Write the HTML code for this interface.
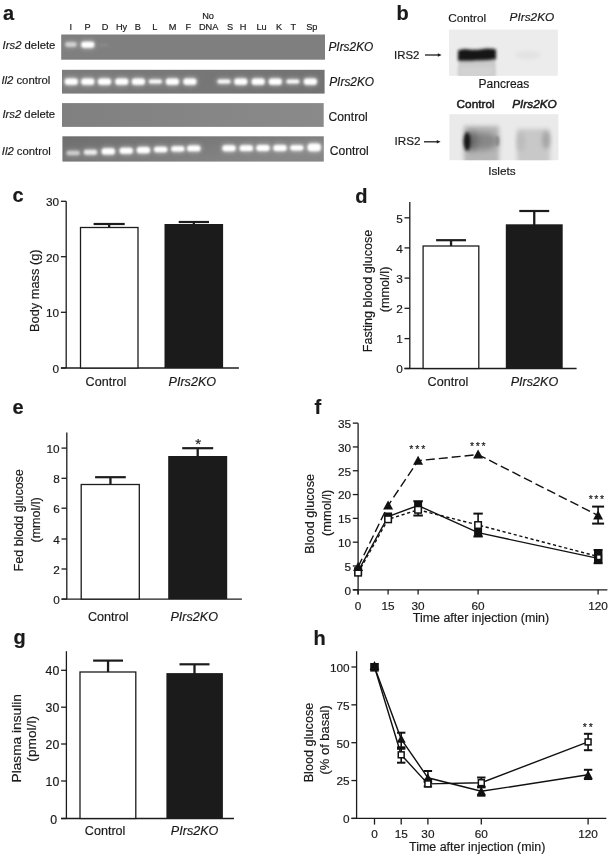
<!DOCTYPE html>
<html><head><meta charset="utf-8"><style>
html,body{margin:0;padding:0;background:#fff;}
body{width:609px;height:856px;overflow:hidden;}
svg{display:block;font-family:"Liberation Sans", sans-serif;filter:grayscale(1);}
text{stroke:#1a1a1a;stroke-width:0.18px;}
</style></head><body>
<svg width="609" height="856" viewBox="0 0 609 856">
<rect width="609" height="856" fill="#ffffff"/>
<text x="3.0" y="19.6" font-size="20" text-anchor="start" font-weight="bold" fill="#1a1a1a">a</text>
<text x="396.5" y="20.0" font-size="20" text-anchor="start" font-weight="bold" fill="#1a1a1a">b</text>
<text x="12.6" y="202.2" font-size="20" text-anchor="start" font-weight="bold" fill="#1a1a1a">c</text>
<text x="355.2" y="202.6" font-size="20" text-anchor="start" font-weight="bold" fill="#1a1a1a">d</text>
<text x="12.6" y="414.0" font-size="20" text-anchor="start" font-weight="bold" fill="#1a1a1a">e</text>
<text x="314.6" y="413.8" font-size="20" text-anchor="start" font-weight="bold" fill="#1a1a1a">f</text>
<text x="13.6" y="643.8" font-size="20" text-anchor="start" font-weight="bold" fill="#1a1a1a">g</text>
<text x="313.6" y="644.6" font-size="20" text-anchor="start" font-weight="bold" fill="#1a1a1a">h</text>
<defs><filter id="blr" x="-50%" y="-80%" width="200%" height="260%"><feGaussianBlur stdDeviation="1.1"/></filter><filter id="blr2" x="-50%" y="-80%" width="200%" height="260%"><feGaussianBlur stdDeviation="2.2"/></filter><filter id="blr15" x="-50%" y="-50%" width="200%" height="200%"><feGaussianBlur stdDeviation="1.5"/></filter><filter id="blr3" x="-50%" y="-50%" width="200%" height="200%"><feGaussianBlur stdDeviation="3"/></filter><linearGradient id="g4" x1="0" y1="0" x2="1" y2="0.6"><stop offset="0" stop-color="#6e6e6e"/><stop offset="0.5" stop-color="#7a7a7a"/><stop offset="1" stop-color="#878787"/></linearGradient><linearGradient id="g3" x1="0" y1="0" x2="1" y2="0"><stop offset="0" stop-color="#808080"/><stop offset="1" stop-color="#8a8a8a"/></linearGradient><linearGradient id="g2" x1="0" y1="0" x2="1" y2="0"><stop offset="0" stop-color="#7c7c7c"/><stop offset="1" stop-color="#727272"/></linearGradient></defs>
<text x="70.8" y="30.2" font-size="9.2" text-anchor="middle" fill="#1a1a1a">I</text>
<text x="87.6" y="30.2" font-size="9.2" text-anchor="middle" fill="#1a1a1a">P</text>
<text x="105" y="30.2" font-size="9.2" text-anchor="middle" fill="#1a1a1a">D</text>
<text x="121.6" y="30.2" font-size="9.2" text-anchor="middle" fill="#1a1a1a">Hy</text>
<text x="137.7" y="30.2" font-size="9.2" text-anchor="middle" fill="#1a1a1a">B</text>
<text x="154.7" y="30.2" font-size="9.2" text-anchor="middle" fill="#1a1a1a">L</text>
<text x="172.6" y="30.2" font-size="9.2" text-anchor="middle" fill="#1a1a1a">M</text>
<text x="188.4" y="30.2" font-size="9.2" text-anchor="middle" fill="#1a1a1a">F</text>
<text x="230" y="30.2" font-size="9.2" text-anchor="middle" fill="#1a1a1a">S</text>
<text x="243" y="30.2" font-size="9.2" text-anchor="middle" fill="#1a1a1a">H</text>
<text x="261.5" y="30.2" font-size="9.2" text-anchor="middle" fill="#1a1a1a">Lu</text>
<text x="279" y="30.2" font-size="9.2" text-anchor="middle" fill="#1a1a1a">K</text>
<text x="293.3" y="30.2" font-size="9.2" text-anchor="middle" fill="#1a1a1a">T</text>
<text x="311.8" y="30.2" font-size="9.2" text-anchor="middle" fill="#1a1a1a">Sp</text>
<text x="208" y="19.2" font-size="9.2" text-anchor="middle" fill="#1a1a1a">No</text>
<text x="208.6" y="30.2" font-size="9.2" text-anchor="middle" fill="#1a1a1a">DNA</text>
<rect x="61.2" y="34.5" width="263.8" height="25.2" fill="#7f7f7f"/>
<rect x="62.0" y="69.8" width="262.6" height="23.8" fill="url(#g2)"/>
<rect x="62.0" y="103.1" width="261.7" height="23.8" fill="url(#g3)"/>
<rect x="62.4" y="136.3" width="261.4" height="25.3" fill="url(#g4)"/>
<rect x="64.0" y="40.4" width="14.0" height="8.0" rx="4.0" fill="#ffffff" opacity="0.19" filter="url(#blr2)"/>
<rect x="65.2" y="41.9" width="11.5" height="5.0" rx="2.3" fill="#ffffff" opacity="0.55" filter="url(#blr)"/>
<rect x="80.0" y="40.3" width="15.5" height="9.0" rx="4.5" fill="#ffffff" opacity="0.35" filter="url(#blr2)"/>
<rect x="81.3" y="41.8" width="13.0" height="6.0" rx="2.7" fill="#ffffff" opacity="1.0" filter="url(#blr)"/>
<rect x="97.8" y="42.0" width="11.5" height="6.0" rx="3.0" fill="#ffffff" opacity="0.02" filter="url(#blr2)"/>
<rect x="99.0" y="43.5" width="9.0" height="3.0" rx="1.4" fill="#ffffff" opacity="0.06" filter="url(#blr)"/>
<rect x="63.5" y="77.0" width="15.5" height="9.2" rx="4.6" fill="#ffffff" opacity="0.35" filter="url(#blr2)"/>
<rect x="64.8" y="78.5" width="13.0" height="6.2" rx="2.8" fill="#ffffff" opacity="1.0" filter="url(#blr)"/>
<rect x="80.0" y="77.0" width="15.5" height="9.2" rx="4.6" fill="#ffffff" opacity="0.35" filter="url(#blr2)"/>
<rect x="81.3" y="78.5" width="13.0" height="6.2" rx="2.8" fill="#ffffff" opacity="1.0" filter="url(#blr)"/>
<rect x="96.8" y="77.0" width="15.5" height="9.2" rx="4.6" fill="#ffffff" opacity="0.35" filter="url(#blr2)"/>
<rect x="98.0" y="78.5" width="13.0" height="6.2" rx="2.8" fill="#ffffff" opacity="1.0" filter="url(#blr)"/>
<rect x="114.0" y="77.0" width="15.5" height="9.2" rx="4.6" fill="#ffffff" opacity="0.35" filter="url(#blr2)"/>
<rect x="115.3" y="78.5" width="13.0" height="6.2" rx="2.8" fill="#ffffff" opacity="1.0" filter="url(#blr)"/>
<rect x="130.7" y="77.0" width="15.5" height="9.2" rx="4.6" fill="#ffffff" opacity="0.35" filter="url(#blr2)"/>
<rect x="131.9" y="78.5" width="13.0" height="6.2" rx="2.8" fill="#ffffff" opacity="1.0" filter="url(#blr)"/>
<rect x="147.7" y="78.1" width="15.5" height="7.0" rx="3.5" fill="#ffffff" opacity="0.33" filter="url(#blr2)"/>
<rect x="148.9" y="79.6" width="13.0" height="4.0" rx="1.8" fill="#ffffff" opacity="0.95" filter="url(#blr)"/>
<rect x="164.7" y="77.0" width="15.5" height="9.2" rx="4.6" fill="#ffffff" opacity="0.35" filter="url(#blr2)"/>
<rect x="165.9" y="78.5" width="13.0" height="6.2" rx="2.8" fill="#ffffff" opacity="1.0" filter="url(#blr)"/>
<rect x="182.2" y="77.0" width="15.5" height="9.2" rx="4.6" fill="#ffffff" opacity="0.35" filter="url(#blr2)"/>
<rect x="183.4" y="78.5" width="13.0" height="6.2" rx="2.8" fill="#ffffff" opacity="1.0" filter="url(#blr)"/>
<rect x="216.2" y="78.1" width="15.5" height="7.0" rx="3.5" fill="#ffffff" opacity="0.33" filter="url(#blr2)"/>
<rect x="217.5" y="79.6" width="13.0" height="4.0" rx="1.8" fill="#ffffff" opacity="0.95" filter="url(#blr)"/>
<rect x="233.1" y="77.0" width="15.5" height="9.2" rx="4.6" fill="#ffffff" opacity="0.35" filter="url(#blr2)"/>
<rect x="234.3" y="78.5" width="13.0" height="6.2" rx="2.8" fill="#ffffff" opacity="1.0" filter="url(#blr)"/>
<rect x="250.4" y="77.0" width="15.5" height="9.2" rx="4.6" fill="#ffffff" opacity="0.35" filter="url(#blr2)"/>
<rect x="251.7" y="78.5" width="13.0" height="6.2" rx="2.8" fill="#ffffff" opacity="1.0" filter="url(#blr)"/>
<rect x="267.6" y="77.0" width="15.5" height="9.2" rx="4.6" fill="#ffffff" opacity="0.35" filter="url(#blr2)"/>
<rect x="268.8" y="78.5" width="13.0" height="6.2" rx="2.8" fill="#ffffff" opacity="1.0" filter="url(#blr)"/>
<rect x="285.1" y="78.1" width="15.5" height="7.0" rx="3.5" fill="#ffffff" opacity="0.33" filter="url(#blr2)"/>
<rect x="286.4" y="79.6" width="13.0" height="4.0" rx="1.8" fill="#ffffff" opacity="0.95" filter="url(#blr)"/>
<rect x="302.6" y="77.0" width="15.5" height="9.2" rx="4.6" fill="#ffffff" opacity="0.35" filter="url(#blr2)"/>
<rect x="303.9" y="78.5" width="13.0" height="6.2" rx="2.8" fill="#ffffff" opacity="1.0" filter="url(#blr)"/>
<rect x="65.4" y="149.2" width="15.7" height="7.6" rx="3.8" fill="#ffffff" opacity="0.19" filter="url(#blr2)"/>
<rect x="66.6" y="150.7" width="13.2" height="4.6" rx="2.1" fill="#ffffff" opacity="0.55" filter="url(#blr)"/>
<rect x="82.7" y="148.3" width="15.7" height="8.0" rx="4.0" fill="#ffffff" opacity="0.28" filter="url(#blr2)"/>
<rect x="83.9" y="149.8" width="13.2" height="5.0" rx="2.3" fill="#ffffff" opacity="0.8" filter="url(#blr)"/>
<rect x="100.5" y="146.8" width="15.7" height="9.2" rx="4.6" fill="#ffffff" opacity="0.35" filter="url(#blr2)"/>
<rect x="101.7" y="148.3" width="13.2" height="6.2" rx="2.8" fill="#ffffff" opacity="1" filter="url(#blr)"/>
<rect x="118.4" y="146.2" width="15.7" height="9.0" rx="4.5" fill="#ffffff" opacity="0.35" filter="url(#blr2)"/>
<rect x="119.6" y="147.7" width="13.2" height="6.0" rx="2.7" fill="#ffffff" opacity="1" filter="url(#blr)"/>
<rect x="135.6" y="145.6" width="15.7" height="9.2" rx="4.6" fill="#ffffff" opacity="0.35" filter="url(#blr2)"/>
<rect x="136.8" y="147.1" width="13.2" height="6.2" rx="2.8" fill="#ffffff" opacity="1" filter="url(#blr)"/>
<rect x="152.8" y="145.3" width="15.7" height="8.4" rx="4.2" fill="#ffffff" opacity="0.35" filter="url(#blr2)"/>
<rect x="154.1" y="146.8" width="13.2" height="5.4" rx="2.5" fill="#ffffff" opacity="1" filter="url(#blr)"/>
<rect x="170.0" y="144.7" width="15.7" height="8.4" rx="4.2" fill="#ffffff" opacity="0.35" filter="url(#blr2)"/>
<rect x="171.2" y="146.2" width="13.2" height="5.4" rx="2.5" fill="#ffffff" opacity="1" filter="url(#blr)"/>
<rect x="186.0" y="144.0" width="15.7" height="8.8" rx="4.4" fill="#ffffff" opacity="0.35" filter="url(#blr2)"/>
<rect x="187.2" y="145.5" width="13.2" height="5.8" rx="2.6" fill="#ffffff" opacity="1" filter="url(#blr)"/>
<rect x="221.2" y="143.7" width="15.7" height="9.0" rx="4.5" fill="#ffffff" opacity="0.35" filter="url(#blr2)"/>
<rect x="222.4" y="145.2" width="13.2" height="6.0" rx="2.7" fill="#ffffff" opacity="1" filter="url(#blr)"/>
<rect x="238.5" y="143.7" width="15.7" height="8.8" rx="4.4" fill="#ffffff" opacity="0.35" filter="url(#blr2)"/>
<rect x="239.7" y="145.2" width="13.2" height="5.8" rx="2.6" fill="#ffffff" opacity="1" filter="url(#blr)"/>
<rect x="255.2" y="143.5" width="15.7" height="9.0" rx="4.5" fill="#ffffff" opacity="0.35" filter="url(#blr2)"/>
<rect x="256.4" y="145.0" width="13.2" height="6.0" rx="2.7" fill="#ffffff" opacity="1" filter="url(#blr)"/>
<rect x="272.1" y="143.6" width="15.7" height="8.8" rx="4.4" fill="#ffffff" opacity="0.35" filter="url(#blr2)"/>
<rect x="273.4" y="145.1" width="13.2" height="5.8" rx="2.6" fill="#ffffff" opacity="1" filter="url(#blr)"/>
<rect x="288.9" y="143.7" width="15.7" height="8.2" rx="4.1" fill="#ffffff" opacity="0.35" filter="url(#blr2)"/>
<rect x="290.2" y="145.2" width="13.2" height="5.2" rx="2.4" fill="#ffffff" opacity="1" filter="url(#blr)"/>
<rect x="306.3" y="142.0" width="15.7" height="10.8" rx="5.4" fill="#ffffff" opacity="0.35" filter="url(#blr2)"/>
<rect x="307.6" y="143.5" width="13.2" height="7.8" rx="3.5" fill="#ffffff" opacity="1" filter="url(#blr)"/>
<text x="2.6" y="48.6" font-size="11.3" fill="#1a1a1a"><tspan font-style="italic">Irs2</tspan> delete</text>
<text x="1.4" y="84.2" font-size="11.3" fill="#1a1a1a"><tspan font-style="italic">Il2</tspan> control</text>
<text x="2.4" y="118.4" font-size="11.3" fill="#1a1a1a"><tspan font-style="italic">Irs2</tspan> delete</text>
<text x="1.8" y="154.6" font-size="11.3" fill="#1a1a1a"><tspan font-style="italic">Il2</tspan> control</text>
<text x="328.4" y="51.0" font-size="11.9" text-anchor="start" font-style="italic" fill="#1a1a1a">PIrs2KO</text>
<text x="329.2" y="86.0" font-size="11.9" text-anchor="start" font-style="italic" fill="#1a1a1a">PIrs2KO</text>
<text x="328.6" y="121.0" font-size="12.1" text-anchor="start" fill="#1a1a1a">Control</text>
<text x="329.8" y="155.3" font-size="12.1" text-anchor="start" fill="#1a1a1a">Control</text>
<text x="448.2" y="22.3" font-size="11.8" text-anchor="start" fill="#1a1a1a">Control</text>
<text x="509.6" y="21.4" font-size="11.8" text-anchor="start" font-style="italic" fill="#1a1a1a">PIrs2KO</text>
<clipPath id="cb1"><rect x="449.0" y="29.6" width="108.8" height="46.2"/></clipPath>
<clipPath id="cb2"><rect x="449.4" y="114.2" width="109.0" height="46.0"/></clipPath>
<rect x="449.0" y="29.6" width="108.8" height="46.2" fill="#ececec"/>
<g clip-path="url(#cb1)">
<rect x="458.5" y="57" width="37" height="22" fill="#c9c9c9" filter="url(#blr)"/>
<rect x="459" y="66" width="35" height="12" fill="#d2d2d2" filter="url(#blr2)"/>
<path d="M458 50.5 Q462 48.2 470 49.4 Q480 50.2 486 48.6 Q492 48 496 49.6 L496 59.0 Q488 60.4 478 60.2 Q468 61.2 458 60.6 Z" fill="#141414" filter="url(#blr15)"/>
<ellipse cx="528" cy="55" rx="13" ry="4" fill="#e2e2e2" filter="url(#blr2)"/>
</g>
<text x="394.0" y="59.2" font-size="11.4" text-anchor="start" fill="#1a1a1a">IRS2</text>
<line x1="425" y1="55.0" x2="439" y2="55.0" stroke="#1c1c1c" stroke-width="1.3"/>
<path d="M437.8 53.3 L441.6 55.0 L437.8 56.7 Z" fill="#1a1a1a"/>
<text x="478.6" y="88.3" font-size="12.0" text-anchor="start" fill="#1a1a1a">Pancreas</text>
<text x="456.6" y="108.2" font-size="11.8" text-anchor="start" fill="#1a1a1a" style="stroke-width:0.5px">Control</text>
<text x="512.2" y="108.2" font-size="11.8" text-anchor="start" font-style="italic" fill="#1a1a1a" style="stroke-width:0.5px">PIrs2KO</text>
<rect x="449.4" y="114.2" width="109.0" height="46.0" fill="#eaeaea"/>
<g clip-path="url(#cb2)">
<rect x="464" y="126" width="35" height="40" fill="#b6b6b6" filter="url(#blr2)"/>
<ellipse cx="483" cy="141" rx="15" ry="9" fill="#878787" filter="url(#blr3)"/>
<ellipse cx="472" cy="141" rx="6" ry="10" fill="#6a6a6a" filter="url(#blr3)"/>
<ellipse cx="497" cy="141" rx="2" ry="5" fill="#8a8a8a" filter="url(#blr)"/>
<ellipse cx="467.2" cy="141.5" rx="3.4" ry="9.5" fill="#161616" filter="url(#blr15)"/>
<rect x="517" y="129" width="33" height="38" fill="#c8c8c8" filter="url(#blr2)"/>
<ellipse cx="546" cy="140" rx="4" ry="9" fill="#a6a6a6" filter="url(#blr2)"/>
<ellipse cx="521" cy="142" rx="4" ry="10" fill="#bcbcbc" filter="url(#blr2)"/>
</g>
<text x="394.6" y="145.3" font-size="11.7" text-anchor="start" fill="#1a1a1a">IRS2</text>
<line x1="424" y1="141.8" x2="438" y2="141.8" stroke="#1c1c1c" stroke-width="1.3"/>
<path d="M436.8 140.1 L440.6 141.8 L436.8 143.5 Z" fill="#1a1a1a"/>
<text x="488.2" y="175.0" font-size="11.8" text-anchor="start" fill="#1a1a1a">Islets</text>
<line x1="66.2" y1="201.3" x2="66.2" y2="368.0" stroke="#1c1c1c" stroke-width="1.3"/>
<line x1="60.9" y1="368.0" x2="238.9" y2="368.0" stroke="#1c1c1c" stroke-width="1.3"/>
<line x1="60.9" y1="368.0" x2="66.2" y2="368.0" stroke="#1c1c1c" stroke-width="1.3"/>
<text x="59.1" y="372.88" font-size="11.8" text-anchor="end" fill="#1a1a1a">0</text>
<line x1="60.9" y1="312.3" x2="66.2" y2="312.3" stroke="#1c1c1c" stroke-width="1.3"/>
<text x="59.1" y="317.18" font-size="11.8" text-anchor="end" fill="#1a1a1a">10</text>
<line x1="60.9" y1="256.7" x2="66.2" y2="256.7" stroke="#1c1c1c" stroke-width="1.3"/>
<text x="59.1" y="261.58" font-size="11.8" text-anchor="end" fill="#1a1a1a">20</text>
<line x1="60.9" y1="201.3" x2="66.2" y2="201.3" stroke="#1c1c1c" stroke-width="1.3"/>
<text x="59.1" y="206.18" font-size="11.8" text-anchor="end" fill="#1a1a1a">30</text>
<line x1="109.15" y1="224.0" x2="109.15" y2="229.0" stroke="#1c1c1c" stroke-width="2.3"/>
<line x1="93.6" y1="224.0" x2="124.7" y2="224.0" stroke="#1c1c1c" stroke-width="2.2"/>
<rect x="80.5" y="227.5" width="57.5" height="140.5" fill="#ffffff" stroke="#1c1c1c" stroke-width="1.3"/>
<line x1="193.85" y1="222.0" x2="193.85" y2="225.8" stroke="#1c1c1c" stroke-width="2.3"/>
<line x1="178.7" y1="222.0" x2="209.0" y2="222.0" stroke="#1c1c1c" stroke-width="2.2"/>
<rect x="164.5" y="224.0" width="58.6" height="144.0" fill="#1b1b1b"/>
<text x="105.9" y="386.0" font-size="12.6" text-anchor="middle" fill="#1a1a1a">Control</text>
<text x="192.3" y="386.0" font-size="12.6" text-anchor="middle" font-style="italic" fill="#1a1a1a">PIrs2KO</text>
<text x="39.4" y="290.7" font-size="12.8" text-anchor="middle" transform="rotate(-90 39.4 290.7)" fill="#1a1a1a">Body mass (g)</text>
<line x1="409.8" y1="201.9" x2="409.8" y2="368.5" stroke="#1c1c1c" stroke-width="1.3"/>
<line x1="404.5" y1="368.5" x2="576.6" y2="368.5" stroke="#1c1c1c" stroke-width="1.3"/>
<line x1="404.5" y1="368.5" x2="409.8" y2="368.5" stroke="#1c1c1c" stroke-width="1.3"/>
<text x="402.7" y="373.38" font-size="11.8" text-anchor="end" fill="#1a1a1a">0</text>
<line x1="404.5" y1="338.6" x2="409.8" y2="338.6" stroke="#1c1c1c" stroke-width="1.3"/>
<text x="402.7" y="343.48" font-size="11.8" text-anchor="end" fill="#1a1a1a">1</text>
<line x1="404.5" y1="308.3" x2="409.8" y2="308.3" stroke="#1c1c1c" stroke-width="1.3"/>
<text x="402.7" y="313.18" font-size="11.8" text-anchor="end" fill="#1a1a1a">2</text>
<line x1="404.5" y1="278.1" x2="409.8" y2="278.1" stroke="#1c1c1c" stroke-width="1.3"/>
<text x="402.7" y="282.98" font-size="11.8" text-anchor="end" fill="#1a1a1a">3</text>
<line x1="404.5" y1="247.9" x2="409.8" y2="247.9" stroke="#1c1c1c" stroke-width="1.3"/>
<text x="402.7" y="252.78" font-size="11.8" text-anchor="end" fill="#1a1a1a">4</text>
<line x1="404.5" y1="217.8" x2="409.8" y2="217.8" stroke="#1c1c1c" stroke-width="1.3"/>
<text x="402.7" y="222.68" font-size="11.8" text-anchor="end" fill="#1a1a1a">5</text>
<line x1="451.05" y1="240.2" x2="451.05" y2="247.5" stroke="#1c1c1c" stroke-width="2.3"/>
<line x1="436.1" y1="240.2" x2="466.0" y2="240.2" stroke="#1c1c1c" stroke-width="2.2"/>
<rect x="423.1" y="246.0" width="55.7" height="122.5" fill="#ffffff" stroke="#1c1c1c" stroke-width="1.3"/>
<line x1="534.25" y1="211.0" x2="534.25" y2="226.1" stroke="#1c1c1c" stroke-width="2.3"/>
<line x1="519.3" y1="211.0" x2="549.2" y2="211.0" stroke="#1c1c1c" stroke-width="2.2"/>
<rect x="505.8" y="224.3" width="56.9" height="144.2" fill="#1b1b1b"/>
<text x="447.9" y="385.9" font-size="12.6" text-anchor="middle" fill="#1a1a1a">Control</text>
<text x="534.5" y="385.9" font-size="12.6" text-anchor="middle" font-style="italic" fill="#1a1a1a">PIrs2KO</text>
<text x="372.4" y="291.0" font-size="12.6" text-anchor="middle" transform="rotate(-90 372.4 291.0)" fill="#1a1a1a">Fasting blood glucose</text>
<text x="389.3" y="289.4" font-size="12.6" text-anchor="middle" transform="rotate(-90 389.3 289.4)" fill="#1a1a1a">(mmol/l)</text>
<line x1="66.8" y1="432.5" x2="66.8" y2="599.1" stroke="#1c1c1c" stroke-width="1.3"/>
<line x1="61.5" y1="599.1" x2="241.9" y2="599.1" stroke="#1c1c1c" stroke-width="1.3"/>
<line x1="61.5" y1="599.1" x2="66.8" y2="599.1" stroke="#1c1c1c" stroke-width="1.3"/>
<text x="59.7" y="603.98" font-size="11.8" text-anchor="end" fill="#1a1a1a">0</text>
<line x1="61.5" y1="569.0" x2="66.8" y2="569.0" stroke="#1c1c1c" stroke-width="1.3"/>
<text x="59.7" y="573.88" font-size="11.8" text-anchor="end" fill="#1a1a1a">2</text>
<line x1="61.5" y1="539.0" x2="66.8" y2="539.0" stroke="#1c1c1c" stroke-width="1.3"/>
<text x="59.7" y="543.88" font-size="11.8" text-anchor="end" fill="#1a1a1a">4</text>
<line x1="61.5" y1="508.2" x2="66.8" y2="508.2" stroke="#1c1c1c" stroke-width="1.3"/>
<text x="59.7" y="513.08" font-size="11.8" text-anchor="end" fill="#1a1a1a">6</text>
<line x1="61.5" y1="478.3" x2="66.8" y2="478.3" stroke="#1c1c1c" stroke-width="1.3"/>
<text x="59.7" y="483.18" font-size="11.8" text-anchor="end" fill="#1a1a1a">8</text>
<line x1="61.5" y1="448.1" x2="66.8" y2="448.1" stroke="#1c1c1c" stroke-width="1.3"/>
<text x="59.7" y="452.98" font-size="11.8" text-anchor="end" fill="#1a1a1a">10</text>
<line x1="110.45" y1="477.2" x2="110.45" y2="486.0" stroke="#1c1c1c" stroke-width="2.3"/>
<line x1="95.1" y1="477.2" x2="125.8" y2="477.2" stroke="#1c1c1c" stroke-width="2.2"/>
<rect x="81.2" y="484.5" width="58.1" height="114.6" fill="#ffffff" stroke="#1c1c1c" stroke-width="1.3"/>
<line x1="197.7" y1="448.2" x2="197.7" y2="457.8" stroke="#1c1c1c" stroke-width="2.3"/>
<line x1="182.2" y1="448.2" x2="213.2" y2="448.2" stroke="#1c1c1c" stroke-width="2.2"/>
<rect x="168.2" y="456.0" width="59" height="143.1" fill="#1b1b1b"/>
<text x="108.3" y="621.0" font-size="12.6" text-anchor="middle" fill="#1a1a1a">Control</text>
<text x="194.2" y="621.0" font-size="12.6" text-anchor="middle" font-style="italic" fill="#1a1a1a">PIrs2KO</text>
<text x="22.7" y="520.3" font-size="12.5" text-anchor="middle" transform="rotate(-90 22.7 520.3)" fill="#1a1a1a">Fed blodd glucose</text>
<text x="40.0" y="519.9" font-size="12.5" text-anchor="middle" transform="rotate(-90 40.0 519.9)" fill="#1a1a1a">(mmol/l)</text>
<text x="198.1" y="448.8" font-size="15" text-anchor="middle" fill="#1a1a1a">*</text>
<line x1="66.4" y1="651.2" x2="66.4" y2="818.5" stroke="#1c1c1c" stroke-width="1.3"/>
<line x1="61.1" y1="818.5" x2="234.0" y2="818.5" stroke="#1c1c1c" stroke-width="1.3"/>
<line x1="61.1" y1="818.5" x2="66.4" y2="818.5" stroke="#1c1c1c" stroke-width="1.3"/>
<text x="57.1" y="823.56" font-size="12.3" text-anchor="end" fill="#1a1a1a">0</text>
<line x1="61.1" y1="781.0" x2="66.4" y2="781.0" stroke="#1c1c1c" stroke-width="1.3"/>
<text x="59.3" y="786.06" font-size="12.3" text-anchor="end" fill="#1a1a1a">10</text>
<line x1="61.1" y1="744.0" x2="66.4" y2="744.0" stroke="#1c1c1c" stroke-width="1.3"/>
<text x="59.3" y="749.06" font-size="12.3" text-anchor="end" fill="#1a1a1a">20</text>
<line x1="61.1" y1="707.2" x2="66.4" y2="707.2" stroke="#1c1c1c" stroke-width="1.3"/>
<text x="59.3" y="712.26" font-size="12.3" text-anchor="end" fill="#1a1a1a">30</text>
<line x1="61.1" y1="670.3" x2="66.4" y2="670.3" stroke="#1c1c1c" stroke-width="1.3"/>
<text x="59.3" y="675.36" font-size="12.3" text-anchor="end" fill="#1a1a1a">40</text>
<line x1="108.05" y1="660.6" x2="108.05" y2="673.5" stroke="#1c1c1c" stroke-width="2.3"/>
<line x1="93.1" y1="660.6" x2="123.0" y2="660.6" stroke="#1c1c1c" stroke-width="2.2"/>
<rect x="80.0" y="672.0" width="55.8" height="146.5" fill="#ffffff" stroke="#1c1c1c" stroke-width="1.3"/>
<line x1="194.5" y1="664.3" x2="194.5" y2="674.9" stroke="#1c1c1c" stroke-width="2.3"/>
<line x1="179.5" y1="664.3" x2="209.5" y2="664.3" stroke="#1c1c1c" stroke-width="2.2"/>
<rect x="166.4" y="673.1" width="56.5" height="145.4" fill="#1b1b1b"/>
<text x="105.1" y="835.0" font-size="12.6" text-anchor="middle" fill="#1a1a1a">Control</text>
<text x="194.6" y="835.0" font-size="12.6" text-anchor="middle" font-style="italic" fill="#1a1a1a">PIrs2KO</text>
<text x="20.9" y="738.3" font-size="13.7" text-anchor="middle" transform="rotate(-90 20.9 738.3)" fill="#1a1a1a">Plasma insulin</text>
<text x="36.0" y="738.8" font-size="13.7" text-anchor="middle" transform="rotate(-90 36.0 738.8)" fill="#1a1a1a">(pmol/l)</text>
<line x1="358.1" y1="423.3" x2="358.1" y2="594.6" stroke="#1c1c1c" stroke-width="1.3"/>
<line x1="352.8" y1="589.8" x2="607.4" y2="589.8" stroke="#1c1c1c" stroke-width="1.3"/>
<line x1="352.8" y1="589.8" x2="358.1" y2="589.8" stroke="#1c1c1c" stroke-width="1.3"/>
<text x="351.0" y="594.68" font-size="11.8" text-anchor="end" fill="#1a1a1a">0</text>
<line x1="352.8" y1="565.99" x2="358.1" y2="565.99" stroke="#1c1c1c" stroke-width="1.3"/>
<text x="351.0" y="570.87" font-size="11.8" text-anchor="end" fill="#1a1a1a">5</text>
<line x1="352.8" y1="542.18" x2="358.1" y2="542.18" stroke="#1c1c1c" stroke-width="1.3"/>
<text x="351.0" y="547.06" font-size="11.8" text-anchor="end" fill="#1a1a1a">10</text>
<line x1="352.8" y1="518.37" x2="358.1" y2="518.37" stroke="#1c1c1c" stroke-width="1.3"/>
<text x="351.0" y="523.25" font-size="11.8" text-anchor="end" fill="#1a1a1a">15</text>
<line x1="352.8" y1="494.56" x2="358.1" y2="494.56" stroke="#1c1c1c" stroke-width="1.3"/>
<text x="351.0" y="499.44" font-size="11.8" text-anchor="end" fill="#1a1a1a">20</text>
<line x1="352.8" y1="470.75" x2="358.1" y2="470.75" stroke="#1c1c1c" stroke-width="1.3"/>
<text x="351.0" y="475.63" font-size="11.8" text-anchor="end" fill="#1a1a1a">25</text>
<line x1="352.8" y1="446.94" x2="358.1" y2="446.94" stroke="#1c1c1c" stroke-width="1.3"/>
<text x="351.0" y="451.82" font-size="11.8" text-anchor="end" fill="#1a1a1a">30</text>
<line x1="352.8" y1="423.13" x2="358.1" y2="423.13" stroke="#1c1c1c" stroke-width="1.3"/>
<text x="351.0" y="428.01" font-size="11.8" text-anchor="end" fill="#1a1a1a">35</text>
<line x1="358.1" y1="589.8" x2="358.1" y2="594.6" stroke="#1c1c1c" stroke-width="1.3"/>
<text x="358.1" y="609.8" font-size="11.8" text-anchor="middle" fill="#1a1a1a">0</text>
<line x1="388.1" y1="589.8" x2="388.1" y2="594.6" stroke="#1c1c1c" stroke-width="1.3"/>
<text x="388.1" y="609.8" font-size="11.8" text-anchor="middle" fill="#1a1a1a">15</text>
<line x1="418.1" y1="589.8" x2="418.1" y2="594.6" stroke="#1c1c1c" stroke-width="1.3"/>
<text x="418.1" y="609.8" font-size="11.8" text-anchor="middle" fill="#1a1a1a">30</text>
<line x1="478.1" y1="589.8" x2="478.1" y2="594.6" stroke="#1c1c1c" stroke-width="1.3"/>
<text x="478.1" y="609.8" font-size="11.8" text-anchor="middle" fill="#1a1a1a">60</text>
<line x1="598.1" y1="589.8" x2="598.1" y2="594.6" stroke="#1c1c1c" stroke-width="1.3"/>
<text x="598.1" y="609.8" font-size="11.8" text-anchor="middle" fill="#1a1a1a">120</text>
<text x="481.0" y="622.1" font-size="12.45" text-anchor="middle" fill="#1a1a1a">Time after injection (min)</text>
<text x="314.3" y="513.8" font-size="12.7" text-anchor="middle" transform="rotate(-90 314.3 513.8)" fill="#1a1a1a">Blood glucose</text>
<text x="330.7" y="512.8" font-size="12.8" text-anchor="middle" transform="rotate(-90 330.7 512.8)" fill="#1a1a1a">(mmol/l)</text>
<polyline points="358.1,571.2 388.1,516.5 418.1,505.5 478.1,532.7 598.1,558.4" fill="none" stroke="#111" stroke-width="1.4"/>
<polyline points="358.1,572.7 388.1,519.3 418.1,509.8 478.1,525.0 598.1,556.5" fill="none" stroke="#111" stroke-width="1.4" stroke-dasharray="3.2 2.6"/>
<polyline points="358.1,566.9 388.1,505.5 418.1,460.7 478.1,454.6 598.1,515.5" fill="none" stroke="#111" stroke-width="1.4" stroke-dasharray="9 4"/>
<line x1="418.1" y1="501.23" x2="418.1" y2="515.51" stroke="#111" stroke-width="1.6"/>
<line x1="413.35" y1="501.23" x2="422.85" y2="501.23" stroke="#111" stroke-width="2.0"/>
<line x1="413.35" y1="515.51" x2="422.85" y2="515.51" stroke="#111" stroke-width="2.0"/>
<line x1="478.1" y1="513.61" x2="478.1" y2="536.47" stroke="#111" stroke-width="1.6"/>
<line x1="473.4" y1="513.61" x2="482.8" y2="513.61" stroke="#111" stroke-width="2.0"/>
<line x1="473.4" y1="536.47" x2="482.8" y2="536.47" stroke="#111" stroke-width="2.0"/>
<line x1="598.1" y1="506.6" x2="598.1" y2="523.6" stroke="#111" stroke-width="1.6"/>
<line x1="592.1" y1="506.6" x2="604.1" y2="506.6" stroke="#111" stroke-width="2.0"/>
<line x1="592.1" y1="523.6" x2="604.1" y2="523.6" stroke="#111" stroke-width="2.0"/>
<line x1="598.1" y1="550.0" x2="598.1" y2="563.2" stroke="#111" stroke-width="1.6"/>
<line x1="593.6" y1="550.0" x2="602.6" y2="550.0" stroke="#111" stroke-width="2.0"/>
<line x1="593.6" y1="563.2" x2="602.6" y2="563.2" stroke="#111" stroke-width="2.0"/>
<rect x="354.1" y="567.23" width="8" height="8" fill="#111"/>
<rect x="384.1" y="512.47" width="8" height="8" fill="#111"/>
<rect x="414.1" y="501.51" width="8" height="8" fill="#111"/>
<rect x="474.1" y="528.66" width="8" height="8" fill="#111"/>
<rect x="594.1" y="554.37" width="8" height="8" fill="#111"/>
<rect x="354.85" y="569.41" width="6.5" height="6.5" fill="#ffffff" stroke="#111" stroke-width="1.5"/>
<rect x="384.85" y="516.07" width="6.5" height="6.5" fill="#ffffff" stroke="#111" stroke-width="1.5"/>
<rect x="414.85" y="506.55" width="6.5" height="6.5" fill="#ffffff" stroke="#111" stroke-width="1.5"/>
<rect x="474.85" y="521.79" width="6.5" height="6.5" fill="#ffffff" stroke="#111" stroke-width="1.5"/>
<rect x="594.85" y="553.22" width="6.5" height="6.5" fill="#ffffff" stroke="#111" stroke-width="1.5"/>
<path d="M358.1 562.0 L363.1 571.0 L353.1 571.0 Z" fill="#111"/>
<path d="M388.1 500.6 L393.1 509.6 L383.1 509.6 Z" fill="#111"/>
<path d="M418.1 455.8 L423.1 464.8 L413.1 464.8 Z" fill="#111"/>
<path d="M478.1 449.6 L483.1 458.6 L473.1 458.6 Z" fill="#111"/>
<path d="M598.1 510.6 L603.1 519.6 L593.1 519.6 Z" fill="#111"/>
<rect x="594.0" y="550.8" width="8.4" height="12.4" fill="#111"/>
<rect x="597.2" y="555.6" width="3.2" height="3.2" fill="#ffffff"/>
<text x="411.4" y="452.88" font-size="10.5" text-anchor="middle" fill="#1a1a1a">*</text>
<text x="417.4" y="452.88" font-size="10.5" text-anchor="middle" fill="#1a1a1a">*</text>
<text x="423.2" y="452.88" font-size="10.5" text-anchor="middle" fill="#1a1a1a">*</text>
<text x="472.1" y="449.78" font-size="10.5" text-anchor="middle" fill="#1a1a1a">*</text>
<text x="477.7" y="449.78" font-size="10.5" text-anchor="middle" fill="#1a1a1a">*</text>
<text x="483.6" y="449.78" font-size="10.5" text-anchor="middle" fill="#1a1a1a">*</text>
<text x="590.7" y="502.88" font-size="10.5" text-anchor="middle" fill="#1a1a1a">*</text>
<text x="596.4" y="502.88" font-size="10.5" text-anchor="middle" fill="#1a1a1a">*</text>
<text x="602.1" y="502.88" font-size="10.5" text-anchor="middle" fill="#1a1a1a">*</text>
<line x1="356.6" y1="651.2" x2="356.6" y2="818.4" stroke="#1c1c1c" stroke-width="1.3"/>
<line x1="351.4" y1="818.4" x2="606.3" y2="818.4" stroke="#1c1c1c" stroke-width="1.3"/>
<line x1="351.4" y1="818.4" x2="356.6" y2="818.4" stroke="#1c1c1c" stroke-width="1.3"/>
<text x="349.6" y="823.28" font-size="11.8" text-anchor="end" fill="#1a1a1a">0</text>
<line x1="351.4" y1="780.55" x2="356.6" y2="780.55" stroke="#1c1c1c" stroke-width="1.3"/>
<text x="349.6" y="785.43" font-size="11.8" text-anchor="end" fill="#1a1a1a">25</text>
<line x1="351.4" y1="742.7" x2="356.6" y2="742.7" stroke="#1c1c1c" stroke-width="1.3"/>
<text x="349.6" y="747.58" font-size="11.8" text-anchor="end" fill="#1a1a1a">50</text>
<line x1="351.4" y1="704.85" x2="356.6" y2="704.85" stroke="#1c1c1c" stroke-width="1.3"/>
<text x="349.6" y="709.73" font-size="11.8" text-anchor="end" fill="#1a1a1a">75</text>
<line x1="351.4" y1="667.0" x2="356.6" y2="667.0" stroke="#1c1c1c" stroke-width="1.3"/>
<text x="349.6" y="671.88" font-size="11.8" text-anchor="end" fill="#1a1a1a">100</text>
<line x1="374.5" y1="818.4" x2="374.5" y2="824.6" stroke="#1c1c1c" stroke-width="1.3"/>
<text x="374.5" y="837.9" font-size="11.8" text-anchor="middle" fill="#1a1a1a">0</text>
<line x1="401.2" y1="818.4" x2="401.2" y2="824.6" stroke="#1c1c1c" stroke-width="1.3"/>
<text x="401.2" y="837.9" font-size="11.8" text-anchor="middle" fill="#1a1a1a">15</text>
<line x1="427.9" y1="818.4" x2="427.9" y2="824.6" stroke="#1c1c1c" stroke-width="1.3"/>
<text x="427.9" y="837.9" font-size="11.8" text-anchor="middle" fill="#1a1a1a">30</text>
<line x1="481.3" y1="818.4" x2="481.3" y2="824.6" stroke="#1c1c1c" stroke-width="1.3"/>
<text x="481.3" y="837.9" font-size="11.8" text-anchor="middle" fill="#1a1a1a">60</text>
<line x1="588.1" y1="818.4" x2="588.1" y2="824.6" stroke="#1c1c1c" stroke-width="1.3"/>
<text x="588.1" y="837.9" font-size="11.8" text-anchor="middle" fill="#1a1a1a">120</text>
<text x="477.2" y="851.0" font-size="12.45" text-anchor="middle" fill="#1a1a1a">Time after injection (min)</text>
<text x="313.0" y="742.5" font-size="12.7" text-anchor="middle" transform="rotate(-90 313.0 742.5)" fill="#1a1a1a">Blood glucose</text>
<text x="329.5" y="739.9" font-size="13.0" text-anchor="middle" transform="rotate(-90 329.5 739.9)" fill="#1a1a1a">(% of basal)</text>
<polyline points="374.5,667.0 401.2,754.8 427.9,783.9 481.3,782.7 588.1,741.9" fill="none" stroke="#111" stroke-width="1.4"/>
<polyline points="374.5,667.0 401.2,739.1 427.9,777.8 481.3,791.3 588.1,774.8" fill="none" stroke="#111" stroke-width="1.4"/>
<line x1="401.2" y1="748.76" x2="401.2" y2="762.7" stroke="#111" stroke-width="1.6"/>
<line x1="397.0" y1="748.76" x2="405.4" y2="748.76" stroke="#111" stroke-width="2.0"/>
<line x1="397.0" y1="762.7" x2="405.4" y2="762.7" stroke="#111" stroke-width="2.0"/>
<line x1="401.2" y1="732.7" x2="401.2" y2="747.3" stroke="#111" stroke-width="1.6"/>
<line x1="397.0" y1="732.7" x2="405.4" y2="732.7" stroke="#111" stroke-width="2.0"/>
<line x1="397.0" y1="747.3" x2="405.4" y2="747.3" stroke="#111" stroke-width="2.0"/>
<line x1="427.9" y1="779.79" x2="427.9" y2="786.5" stroke="#111" stroke-width="1.6"/>
<line x1="423.7" y1="779.79" x2="432.1" y2="779.79" stroke="#111" stroke-width="2.0"/>
<line x1="423.7" y1="786.5" x2="432.1" y2="786.5" stroke="#111" stroke-width="2.0"/>
<line x1="427.9" y1="771.0" x2="427.9" y2="782.06" stroke="#111" stroke-width="1.6"/>
<line x1="423.7" y1="771.0" x2="432.1" y2="771.0" stroke="#111" stroke-width="2.0"/>
<line x1="423.7" y1="782.06" x2="432.1" y2="782.06" stroke="#111" stroke-width="2.0"/>
<line x1="481.3" y1="777.52" x2="481.3" y2="787.36" stroke="#111" stroke-width="1.6"/>
<line x1="477.1" y1="777.52" x2="485.5" y2="777.52" stroke="#111" stroke-width="2.0"/>
<line x1="477.1" y1="787.36" x2="485.5" y2="787.36" stroke="#111" stroke-width="2.0"/>
<line x1="481.3" y1="786.61" x2="481.3" y2="795.69" stroke="#111" stroke-width="1.6"/>
<line x1="477.1" y1="786.61" x2="485.5" y2="786.61" stroke="#111" stroke-width="2.0"/>
<line x1="477.1" y1="795.69" x2="485.5" y2="795.69" stroke="#111" stroke-width="2.0"/>
<line x1="588.1" y1="733.8" x2="588.1" y2="750.2" stroke="#111" stroke-width="1.6"/>
<line x1="583.9" y1="733.8" x2="592.3" y2="733.8" stroke="#111" stroke-width="2.0"/>
<line x1="583.9" y1="750.2" x2="592.3" y2="750.2" stroke="#111" stroke-width="2.0"/>
<line x1="588.1" y1="769.8" x2="588.1" y2="779.04" stroke="#111" stroke-width="1.6"/>
<line x1="583.9" y1="769.8" x2="592.3" y2="769.8" stroke="#111" stroke-width="2.0"/>
<line x1="583.9" y1="779.04" x2="592.3" y2="779.04" stroke="#111" stroke-width="2.0"/>
<path d="M374.5 661.1 L379.4 670.0 L369.6 670.0 Z" fill="#111"/>
<path d="M401.2 734.6 L405.7 742.7 L396.7 742.7 Z" fill="#111"/>
<path d="M427.9 773.4 L432.4 781.5 L423.4 781.5 Z" fill="#111"/>
<path d="M481.3 786.8 L485.8 794.9 L476.8 794.9 Z" fill="#111"/>
<path d="M588.1 770.3 L592.6 778.4 L583.6 778.4 Z" fill="#111"/>
<rect x="370.2" y="663.0" width="8.6" height="8.6" fill="#111"/>
<rect x="398.25" y="751.86" width="5.9" height="5.9" fill="#ffffff" stroke="#111" stroke-width="1.5"/>
<rect x="424.95" y="780.93" width="5.9" height="5.9" fill="#ffffff" stroke="#111" stroke-width="1.5"/>
<rect x="478.35" y="779.72" width="5.9" height="5.9" fill="#ffffff" stroke="#111" stroke-width="1.5"/>
<rect x="585.15" y="738.99" width="5.9" height="5.9" fill="#ffffff" stroke="#111" stroke-width="1.5"/>
<text x="584.9" y="730.98" font-size="10.5" text-anchor="middle" fill="#1a1a1a">*</text>
<text x="590.8" y="730.98" font-size="10.5" text-anchor="middle" fill="#1a1a1a">*</text>
</svg>
</body></html>
